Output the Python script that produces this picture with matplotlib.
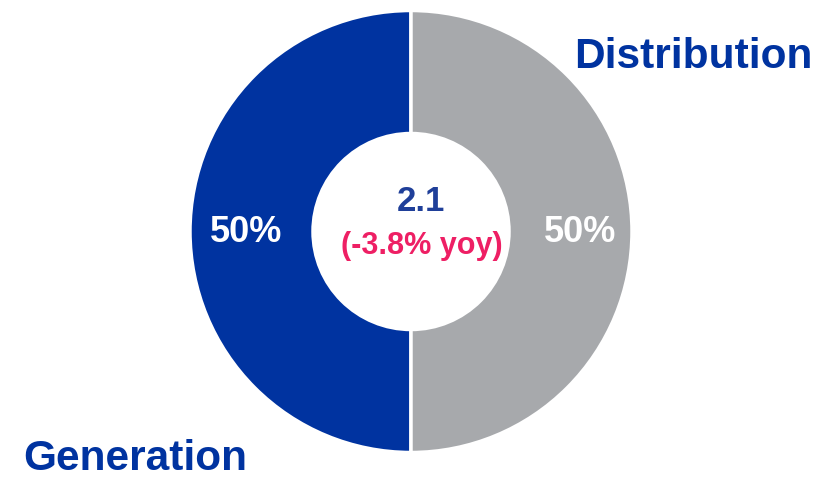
import matplotlib.pyplot as plt

plt.rcParams['font.family'] = ['Liberation Sans', 'DejaVu Sans']

# data
segments = ['Generation', 'Distribution']
shares = [50, 50]
colors = ['#0033A0', '#A7A9AC']
total = '2.1'
change = '(-3.8% yoy)'

fig = plt.figure(figsize=(8.19, 4.79), dpi=100)
ax = fig.add_axes([0, 0, 1, 1])

cx, cy = 411, 479 - 231.5
wedges, _ = ax.pie(shares, colors=colors, startangle=90, counterclock=True,
                   center=(cx, cy), radius=221, frame=True,
                   wedgeprops=dict(width=123, edgecolor='white', linewidth=2.5))
ax.set_xlim(0, 819)
ax.set_ylim(0, 479)
ax.set_aspect('equal')
ax.axis('off')

# percentage labels
ax.text(246, 479 - 232, f'{shares[0]}%', color='white', fontsize=26,
        fontweight='bold', ha='center', va='center')
ax.text(580, 479 - 232, f'{shares[1]}%', color='white', fontsize=26,
        fontweight='bold', ha='center', va='center')

# center text
ax.text(421, 479 - 201, total, color='#1F3F99', fontsize=25,
        fontweight='bold', ha='center', va='center')
ax.text(422, 479 - 246, change, color='#EE1F64', fontsize=22,
        fontweight='bold', ha='center', va='center')

# segment names
ax.text(693, 479 - 57, segments[1], color='#0033A0', fontsize=30.5,
        fontweight='bold', ha='center', va='center')
ax.text(135, 479 - 459, segments[0], color='#0033A0', fontsize=30.5,
        fontweight='bold', ha='center', va='center')

fig.savefig('out.png', dpi=100, facecolor='white')
